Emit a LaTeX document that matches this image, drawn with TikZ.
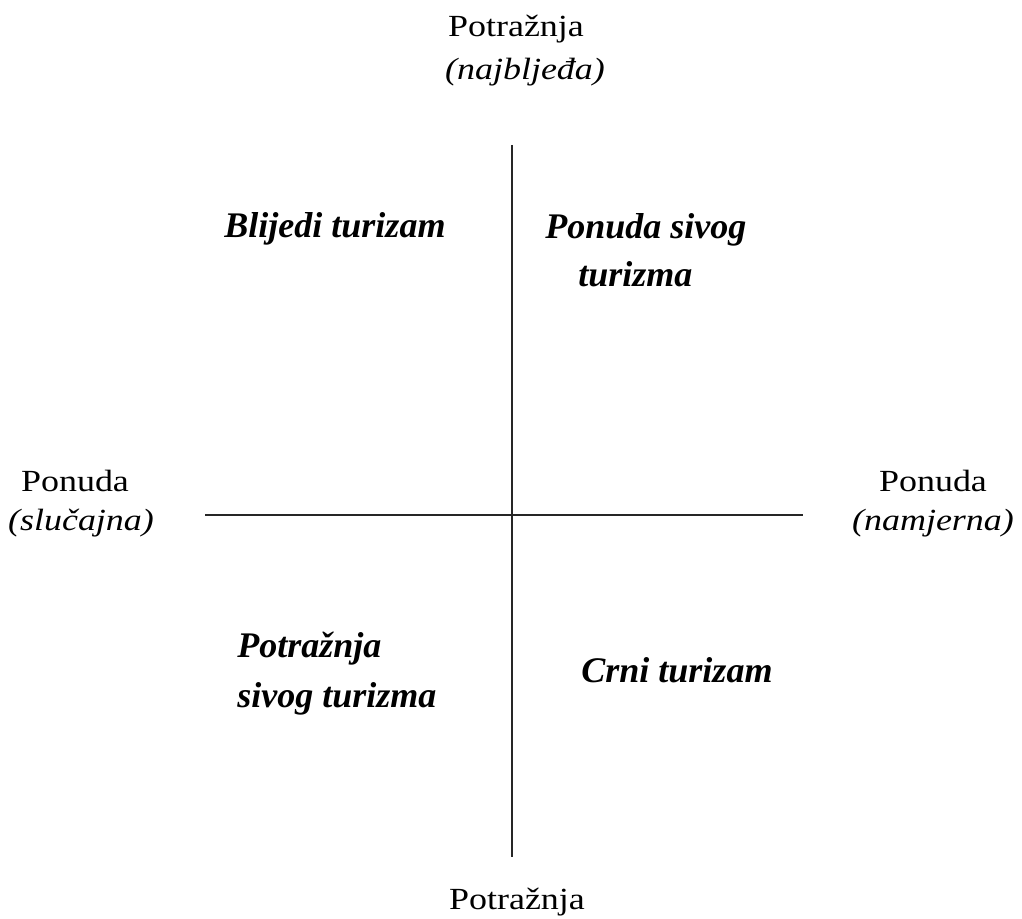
\documentclass[tikz,border=0pt]{standalone}
\usepackage{fontspec}
\setmainfont{Liberation Serif}
\newfontfamily\widefont[FakeStretch=1.17]{Liberation Serif}
\begin{document}
\begin{tikzpicture}[x=0.02cm,y=-0.02cm,
  lbl/.style={font=\widefont\fontsize{17.5}{22}\selectfont, inner sep=0pt, anchor=base},
  qlbl/.style={font=\fontsize{20.5}{27}\selectfont\bfseries\itshape, inner sep=0pt, anchor=base west},
  axis/.style={line width=0.9pt, black!85}]
\useasboundingbox (0,0) rectangle (1022,919);
\coordinate (top) at (512,145);
\coordinate (bot) at (512,857);
\coordinate (lft) at (205,515);
\coordinate (rgt) at (803,515);
\draw[axis] (top) -- (bot);
\draw[axis] (lft) -- (rgt);
\node[lbl] (ptop) at (516,37) {Potražnja};
\node[lbl] (ptopb) at (525,80) {\itshape (najbljeđa)};
\node[lbl] (pbot) at (517,909) {Potražnja};
\node[lbl] (pl) at (75,491) {Ponuda};
\node[lbl] (plb) at (81,530) {\itshape (slučajna)};
\node[lbl] (pr) at (933,491) {Ponuda};
\node[lbl] (prb) at (933,530) {\itshape (namjerna)};
\node[qlbl] (q1) at (224,237) {Blijedi turizam};
\node[qlbl] (q2) at (545,238) {Ponuda sivog};
\node[qlbl] (q2b) at (578,286) {turizma};
\node[qlbl] (q3) at (237,657) {Potražnja};
\node[qlbl] (q3b) at (237,707) {sivog turizma};
\node[qlbl] (q4) at (581,682) {Crni turizam};
\end{tikzpicture}
\end{document}
